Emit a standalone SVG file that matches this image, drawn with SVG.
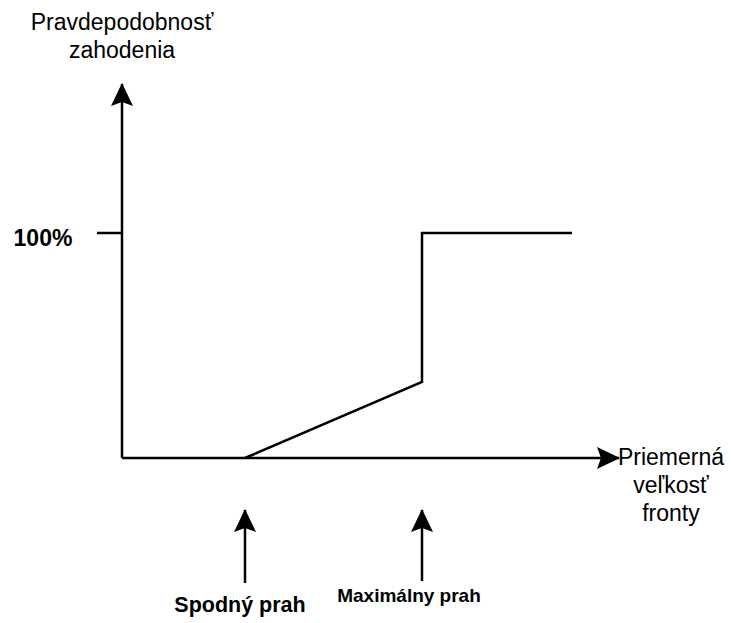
<svg xmlns="http://www.w3.org/2000/svg" width="731" height="623" viewBox="0 0 731 623">
<style>
.ln{fill:none;stroke:#000;stroke-width:2.5;stroke-linejoin:miter}
.t{font-family:"Liberation Sans",Arial,sans-serif;fill:#000;text-anchor:middle}
.n{font-size:23px}
.b{font-weight:bold}
</style>
<defs>
<marker id="ah" viewBox="0 0 24 22" refX="22" refY="11" markerWidth="24" markerHeight="22" markerUnits="userSpaceOnUse" orient="auto">
<path d="M0,0 L23,11 L0,22 L4,11 Z" fill="#000"/>
</marker>
</defs>
<rect width="731" height="623" fill="#fff"/>
<g id="connectors">
<path id="y-axis" class="ln" d="M122,458 L122,84" marker-end="url(#ah)"/>
<path id="x-axis" class="ln" d="M122,458 L619,458" marker-end="url(#ah)"/>
<path id="tick" class="ln" d="M97,233 L122,233"/>
<path id="curve" class="ln" d="M245,458 L422,382 L422,233 L572,233"/>
<path id="arrow-low" class="ln" d="M245,583 L245,510" marker-end="url(#ah)"/>
<path id="arrow-max" class="ln" d="M422,581 L422,510" marker-end="url(#ah)"/>
</g>
<g id="label-y"><text class="t n" x="122" y="30">Pravdepodobnosť</text><text class="t n" x="122" y="58">zahodenia</text></g>
<g id="label-100"><text class="t b" x="43" y="246" font-size="23">100%</text></g>
<g id="label-x"><text class="t n" x="671" y="465">Priemerná</text><text class="t n" x="671" y="493">veľkosť</text><text class="t n" x="671" y="521">fronty</text></g>
<g id="label-low"><text class="t b" x="240" y="612" font-size="21.5">Spodný prah</text></g>
<g id="label-max"><text class="t b" x="409" y="602" font-size="19">Maximálny prah</text></g>
</svg>
